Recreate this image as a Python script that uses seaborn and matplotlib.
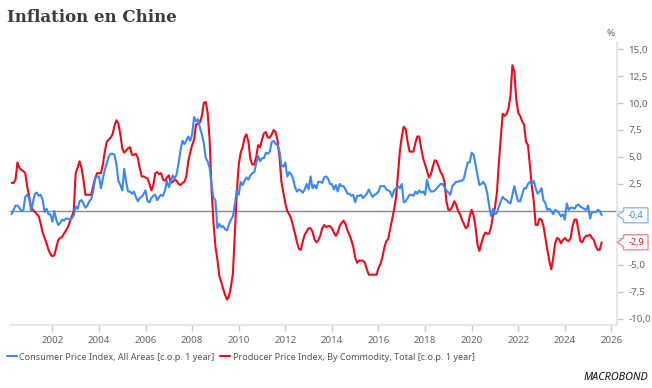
import numpy as np
import pandas as pd
import matplotlib
matplotlib.use("Agg")
import matplotlib.pyplot as plt
from matplotlib.lines import Line2D
from matplotlib.patches import Polygon
import seaborn as sns

# monthly data, first value = April 2000, last = August 2025
start_year, start_month = 2000, 4

cpi = [
    -0.3, 0.1, 0.5, 0.5, 0.3, 0.0, 0.0, 1.3, 1.5,                     # 2000 (Apr-Dec)
    1.2, 0.0, 0.8, 1.6, 1.7, 1.4, 1.5, 1.0, -0.1, 0.2, -0.3, -0.3,     # 2001
    -1.0, 0.0, -0.8, -1.3, -1.1, -0.8, -0.9, -0.7, -0.7, -0.8, -0.7, -0.4,  # 2002
    0.4, 0.2, 0.9, 1.0, 0.7, 0.3, 0.5, 0.9, 1.1, 1.8, 3.0, 3.2,         # 2003
    3.2, 2.1, 3.0, 3.8, 4.4, 5.0, 5.3, 5.3, 5.2, 4.3, 2.8, 2.4,         # 2004
    1.9, 3.9, 2.7, 1.8, 1.8, 1.6, 1.8, 1.3, 0.9, 1.2, 1.3, 1.6,         # 2005
    1.9, 0.9, 0.8, 1.2, 1.4, 1.5, 1.0, 1.3, 1.5, 1.4, 1.9, 2.8,         # 2006
    2.2, 2.7, 3.3, 3.0, 3.4, 4.4, 5.6, 6.5, 6.2, 6.5, 6.9, 6.5,         # 2007
    7.1, 8.7, 8.3, 8.5, 7.7, 7.1, 6.3, 4.9, 4.6, 4.0, 2.4, 1.2,         # 2008
    1.0, -1.6, -1.2, -1.5, -1.4, -1.7, -1.8, -1.2, -0.8, -0.5, 0.6, 1.9,  # 2009
    1.5, 2.7, 2.4, 2.8, 3.1, 2.9, 3.3, 3.5, 3.6, 4.4, 5.1, 4.6,         # 2010
    4.9, 4.9, 5.4, 5.3, 5.5, 6.4, 6.5, 6.2, 6.1, 5.5, 4.2, 4.1,         # 2011
    4.5, 3.2, 3.6, 3.4, 3.0, 2.2, 1.8, 2.0, 1.9, 1.7, 2.0, 2.5,         # 2012
    2.0, 3.2, 2.1, 2.4, 2.1, 2.7, 2.7, 2.6, 3.1, 3.2, 3.0, 2.5,         # 2013
    2.5, 2.0, 2.4, 1.8, 2.5, 2.3, 2.3, 2.0, 1.6, 1.6, 1.4, 1.5,         # 2014
    0.8, 1.4, 1.4, 1.5, 1.2, 1.4, 1.6, 2.0, 1.6, 1.3, 1.5, 1.6,         # 2015
    1.8, 2.3, 2.3, 2.3, 2.0, 1.9, 1.8, 1.3, 1.9, 2.1, 2.3, 2.1,         # 2016
    2.5, 0.8, 0.9, 1.2, 1.5, 1.5, 1.4, 1.8, 1.6, 1.9, 1.7, 1.8,         # 2017
    1.5, 2.9, 2.1, 1.8, 1.8, 1.9, 2.1, 2.3, 2.5, 2.5, 2.2, 1.9,         # 2018
    1.7, 1.5, 2.3, 2.5, 2.7, 2.7, 2.8, 2.8, 3.0, 3.8, 4.5, 4.5,         # 2019
    5.4, 5.2, 4.3, 3.3, 2.4, 2.5, 2.7, 2.4, 1.7, 0.5, -0.5, 0.2,        # 2020
    -0.3, -0.2, 0.4, 0.9, 1.3, 1.1, 1.0, 0.8, 0.7, 1.5, 2.3, 1.5,       # 2021
    0.9, 0.9, 1.5, 2.1, 2.1, 2.5, 2.7, 2.5, 2.8, 2.1, 1.6, 1.8,         # 2022
    2.1, 1.0, 0.7, 0.1, 0.2, 0.0, -0.3, 0.1, 0.0, -0.2, -0.5, -0.3,     # 2023
    -0.8, 0.7, 0.1, 0.3, 0.3, 0.2, 0.5, 0.6, 0.4, 0.3, 0.2, 0.1,        # 2024
    0.5, -0.7, -0.1, -0.1, -0.1, 0.1, 0.0, -0.4,                        # 2025 (Jan-Aug)
]

ppi = [
    2.6, 2.6, 2.9, 4.5, 4.0, 3.8, 3.7, 3.5, 2.3,                        # 2000 (Apr-Dec)
    1.4, 0.4, 0.1, -0.1, -0.3, -0.5, -1.2, -2.0, -2.5, -3.0, -3.6, -4.0,  # 2001
    -4.2, -4.1, -3.4, -2.7, -2.5, -2.4, -2.1, -1.8, -1.5, -1.0, -0.5, 0.0,  # 2002
    3.5, 4.0, 4.6, 4.0, 2.9, 1.5, 1.5, 1.5, 1.5, 2.3, 3.0, 3.5,         # 2003
    3.5, 3.5, 4.3, 5.5, 6.4, 6.6, 6.8, 7.1, 7.9, 8.4, 8.1, 7.1,         # 2004
    5.8, 5.4, 5.6, 5.8, 5.9, 5.2, 5.2, 5.3, 4.9, 4.0, 3.2, 3.2,         # 2005
    3.1, 3.0, 2.5, 1.9, 2.4, 3.5, 3.6, 3.4, 3.5, 2.9, 2.8, 3.1,         # 2006
    3.3, 2.6, 2.7, 2.9, 2.8, 2.5, 2.4, 2.6, 2.7, 3.2, 4.6, 5.4,         # 2007
    6.1, 6.6, 8.0, 8.1, 8.2, 8.8, 10.0, 10.1, 9.1, 6.6, 2.0, -1.1,      # 2008
    -3.3, -4.5, -6.0, -6.6, -7.2, -7.8, -8.2, -7.9, -7.0, -5.8, -2.1, 1.7,  # 2009
    4.3, 5.4, 5.9, 6.8, 7.1, 6.4, 4.8, 4.3, 4.3, 5.0, 6.1, 5.9,         # 2010
    6.6, 7.2, 7.3, 6.8, 6.8, 7.1, 7.5, 7.3, 6.5, 5.0, 2.7, 1.7,         # 2011
    0.7, 0.0, -0.3, -0.7, -1.4, -2.1, -2.9, -3.5, -3.6, -2.8, -2.2, -1.9,  # 2012
    -1.6, -1.6, -1.9, -2.6, -2.9, -2.7, -2.3, -1.6, -1.3, -1.5, -1.4, -1.4,  # 2013
    -1.6, -2.0, -2.3, -2.0, -1.4, -1.1, -0.9, -1.2, -1.8, -2.2, -2.7, -3.3,  # 2014
    -4.3, -4.8, -4.6, -4.6, -4.6, -4.8, -5.4, -5.9, -5.9, -5.9, -5.9, -5.9,  # 2015
    -5.3, -4.9, -4.3, -3.4, -2.8, -2.6, -1.7, -0.8, 0.1, 1.2, 3.3, 5.5,  # 2016
    6.9, 7.8, 7.6, 6.4, 5.5, 5.5, 5.5, 6.3, 6.9, 6.9, 5.8, 4.9,         # 2017
    4.3, 3.7, 3.1, 3.4, 4.1, 4.7, 4.6, 4.1, 3.6, 3.3, 2.7, 0.9,         # 2018
    0.1, 0.1, 0.4, 0.9, 0.6, 0.0, -0.3, -0.8, -1.2, -1.6, -1.4, -0.5,   # 2019
    0.1, -0.4, -1.5, -3.1, -3.7, -3.0, -2.4, -2.0, -2.1, -2.1, -1.5, -0.4,  # 2020
    0.3, 1.7, 4.4, 6.8, 9.0, 8.8, 9.0, 9.5, 10.7, 13.5, 12.9, 10.3,     # 2021
    9.1, 8.8, 8.3, 8.0, 6.4, 6.1, 4.2, 2.3, 0.9, -1.3, -1.3, -0.7,      # 2022
    -0.8, -1.4, -2.5, -3.6, -4.6, -5.4, -4.4, -3.0, -2.5, -2.6, -3.0, -2.7,  # 2023
    -2.5, -2.7, -2.8, -2.5, -1.4, -0.8, -0.8, -1.8, -2.8, -2.9, -2.5, -2.3,  # 2024
    -2.3, -2.2, -2.5, -2.7, -3.3, -3.6, -3.6, -2.9,                     # 2025 (Jan-Aug)
]

cpi_name = "Consumer Price Index, All Areas [c.o.p. 1 year]"
ppi_name = "Producer Price Index, By Commodity, Total [c.o.p. 1 year]"
cpi_col = "#3b87f5"
ppi_col = "#ee0a1c"

yticks = [-10, -7.5, -5, -2.5, 0, 2.5, 5, 7.5, 10, 12.5, 15]
hidden_ylabels = [0, -2.5]   # covered by the last-value boxes in the original
xticks = list(range(2002, 2027, 2))

months = np.arange(len(cpi)) + (start_month - 1)
t = start_year + months / 12.0
df = pd.concat([
    pd.DataFrame({"t": t, "value": cpi, "series": cpi_name}),
    pd.DataFrame({"t": t, "value": ppi, "series": ppi_name}),
])

sns.set_theme(style="white")
plt.rcParams["font.family"] = ["Noto Sans", "DejaVu Sans"]

fig = plt.figure(figsize=(6.52, 3.88), dpi=100)
ax = fig.add_axes([10 / 652, 1 - 325 / 388, 607 / 652, 283 / 388])

ax.axhline(0, color="#8a8a8a", lw=1.0, zorder=1)
sns.lineplot(data=df, x="t", y="value", hue="series",
             hue_order=[ppi_name, cpi_name],
             palette={cpi_name: cpi_col, ppi_name: ppi_col},
             linewidth=1.5, legend=False, ax=ax)

ax.set_xlim(2000.18, 2026.24)
ax.set_ylim(-10.56, 15.65)
ax.set_xlabel("")
ax.set_ylabel("")

ax.yaxis.tick_right()
ax.set_yticks(yticks)
ax.set_yticklabels(["" if v in hidden_ylabels else f"{v:.1f}".replace(".", ",")
                    for v in yticks])
ax.set_xticks(xticks)
ax.set_xticklabels([str(x) for x in xticks])
ax.tick_params(axis="both", which="major", length=4, width=1, color="#c8c8c8",
               labelcolor="#666666", labelsize=7)
ax.tick_params(axis="y", pad=4, right=True, left=False)
ax.tick_params(axis="x", pad=4, bottom=True)

for s in ["top", "left"]:
    ax.spines[s].set_visible(False)
for s in ["bottom", "right"]:
    ax.spines[s].set_color("#e2e2e2")
    ax.spines[s].set_linewidth(1.2)

# title and unit
fig.text(7 / 652, 1 - 17 / 388, "Inflation en Chine", family="DejaVu Serif",
         weight="bold", size=12, color="#3c3c3c", va="center", ha="left")
fig.text(611 / 652, 1 - 33 / 388, "%", size=7, color="#666666", ha="center", va="center")

# last value labels
inv = fig.transFigure.inverted()
for val, col, edge in [(cpi[-1], cpi_col, "#8dbaf8"), (ppi[-1], ppi_col, "#f38a90")]:
    _, yp = ax.transData.transform((2026, val))
    x_tip = 617.5
    x_l = 623.5
    x_r = 648
    h = 7.5
    n = 4.2
    pts = [(x_tip, yp), (x_l, yp + n), (x_l, yp + h), (x_r, yp + h),
           (x_r, yp - h), (x_l, yp - h), (x_l, yp - n)]
    pts = [tuple(inv.transform(p)) for p in pts]
    fig.patches.append(Polygon(pts, closed=True, facecolor="white", edgecolor=edge,
                               lw=1.0, transform=fig.transFigure))
    cx, cy = inv.transform((636, yp))
    fig.text(cx, cy, f"{val:.1f}".replace(".", ","), color=col, size=6.5,
             ha="center", va="center")

# legend
handles = [Line2D([0], [0], color=cpi_col, lw=1.5),
           Line2D([0], [0], color=ppi_col, lw=1.5)]
fig.legend(handles, [cpi_name, ppi_name], loc="center left",
           bbox_to_anchor=(3 / 652, 1 - 357 / 388), ncol=2, frameon=False,
           fontsize=6.5, handlelength=1.1, handletextpad=0.3, columnspacing=0.6,
           labelcolor="#555555", borderaxespad=0)

fig.text(648 / 652, 1 - 378 / 388, "MACROBOND", size=7.8, weight="heavy", style="italic",
         color="#111111", ha="right", va="center")

fig.savefig("out.png", dpi=100)
